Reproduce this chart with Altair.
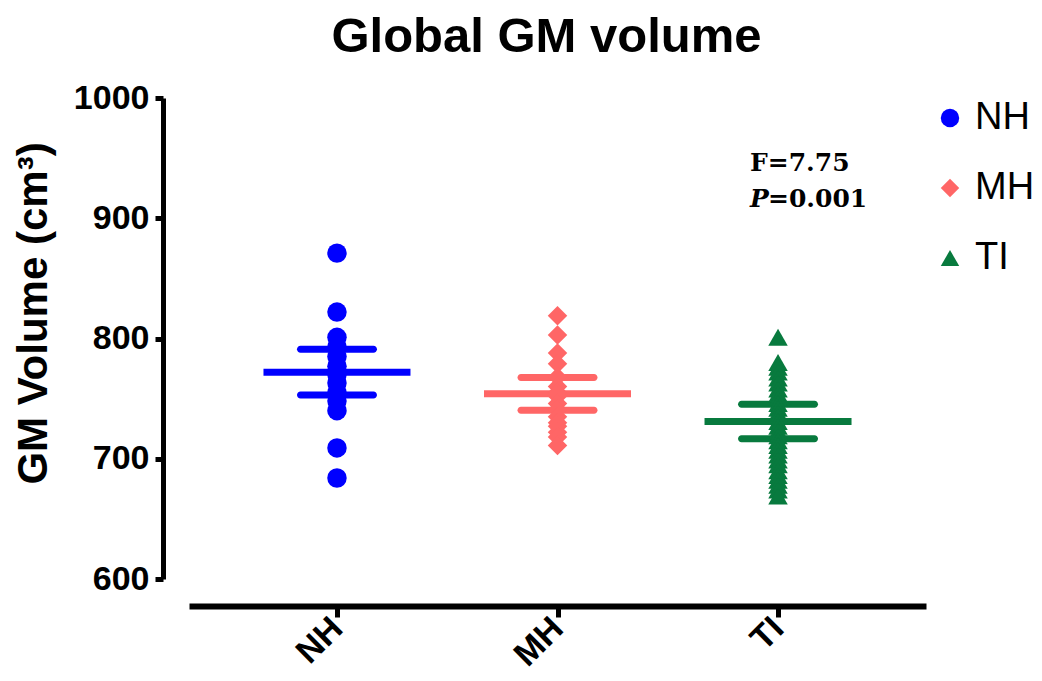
import altair as alt
import pandas as pd

GROUPS = ["NH", "MH", "TI"]
COLORS = ["#0000FF", "#FF6666", "#087A3E"]
SHAPES = ["circle", "diamond", "triangle-up"]

NH = [871, 822, 801, 793, 785, 777, 770, 763, 755, 748, 740, 709, 684]
MH = [819, 803, 788, 779, 768, 760, 755, 752, 746, 741, 735, 730, 727, 722, 718, 711]
TI = [801, 780, 776, 772, 767, 763, 758, 754, 750, 746, 742, 738, 735, 731, 727,
      723, 719, 715, 711, 707, 703, 699, 695, 690, 686, 682, 678, 674, 669]

MEAN = [772, 754, 731]
SEM = [19, 13.6, 14.3]

STAT_F = "F=7.75"
STAT_P = "=0.001"

rows = []
for g, vals in zip(GROUPS, [NH, MH, TI]):
    for v in vals:
        rows.append({"group": g, "volume": v})
pts = pd.DataFrame(rows)

stats = pd.DataFrame({"group": GROUPS, "mean": MEAN, "sem": SEM})
stats["lo"] = stats["mean"] - stats["sem"]
stats["hi"] = stats["mean"] + stats["sem"]

FONT = "Liberation Sans"

xscale = alt.Scale(type="point", domain=GROUPS, padding=0.671)
yscale = alt.Scale(domain=[600, 1000], nice=False, zero=False)
cscale = alt.Scale(domain=GROUPS, range=COLORS)
sscale = alt.Scale(domain=GROUPS, range=SHAPES)

xaxis = alt.Axis(title=None, labelAngle=-45, labelAlign="right", labelBaseline="middle",
                 labelFont=FONT, labelFontSize=34, labelFontWeight="bold", labelColor="black",
                 domainColor="black", domainWidth=6, tickColor="black", tickWidth=5, tickSize=11,
                 offset=27, labelPadding=6, grid=False)
yaxis = alt.Axis(title="GM Volume (cm³)", values=[600, 700, 800, 900, 1000], format="d",
                 labelFont=FONT, labelFontSize=34, labelFontWeight="bold", labelColor="black",
                 titleFont=FONT, titleFontSize=42, titleFontWeight="bold", titleColor="black",
                 domainColor="black", domainWidth=5, tickColor="black", tickWidth=5, tickSize=8,
                 offset=26, labelPadding=6, titlePadding=18, titleY=215, grid=False)

legend = alt.Legend(title=None, orient="none", legendX=742, legendY=1,
                    labelFont=FONT, labelFontSize=38, labelColor="black",
                    symbolSize=340, symbolStrokeWidth=0, rowPadding=32,
                    labelOffset=6, symbolOpacity=1)

points = alt.Chart(pts).mark_point(filled=True, size=380, opacity=1).encode(
    x=alt.X("group:N", scale=xscale, axis=xaxis, sort=GROUPS),
    y=alt.Y("volume:Q", scale=yscale, axis=yaxis),
    color=alt.Color("group:N", scale=cscale, sort=GROUPS, legend=legend),
    shape=alt.Shape("group:N", scale=sscale, sort=GROUPS, legend=legend),
)


def stat_tick(field, size, radius):
    return alt.Chart(stats).mark_tick(size=size, thickness=7, cornerRadius=radius, opacity=1).encode(
        x=alt.X("group:N", scale=xscale, sort=GROUPS),
        y=alt.Y(f"{field}:Q", scale=yscale),
        color=alt.Color("group:N", scale=cscale, sort=GROUPS),
    )


mean_tick = stat_tick("mean", 147, 0)
hi_tick = stat_tick("hi", 80, 3.5)
lo_tick = stat_tick("lo", 80, 3.5)

ann = pd.DataFrame({"group": ["TI"], "yf": [946], "yp": [916]})
txt_f = alt.Chart(ann).mark_text(align="left", baseline="middle", dx=-28, font="DejaVu Serif",
                                 fontSize=25, fontWeight="bold", color="black").encode(
    x=alt.X("group:N", scale=xscale), y=alt.Y("yf:Q", scale=yscale), text=alt.value(STAT_F))
txt_p = alt.Chart(ann).mark_text(align="left", baseline="middle", dx=-28, font="DejaVu Serif",
                                 fontSize=25, fontWeight="bold", fontStyle="italic", color="black").encode(
    x=alt.X("group:N", scale=xscale), y=alt.Y("yp:Q", scale=yscale), text=alt.value("P"))
txt_p2 = alt.Chart(ann).mark_text(align="left", baseline="middle", dx=-10, font="DejaVu Serif",
                                  fontSize=25, fontWeight="bold", color="black").encode(
    x=alt.X("group:N", scale=xscale), y=alt.Y("yp:Q", scale=yscale), text=alt.value(STAT_P))

chart = alt.layer(mean_tick, hi_tick, lo_tick, points, txt_f, txt_p, txt_p2).properties(
    width=737, height=481,
    background="white",
    title=alt.Title("Global GM volume", font=FONT, fontSize=49, fontWeight="bold", color="black",
                    anchor="middle", offset=19, dx=-11),
    padding={"left": 181, "top": 90, "right": 108, "bottom": 94},
    autosize=alt.AutoSizeParams(type="none"),
).configure_view(strokeWidth=0)

chart.save("out.html", embed_options={"renderer": "svg", "actions": False})
